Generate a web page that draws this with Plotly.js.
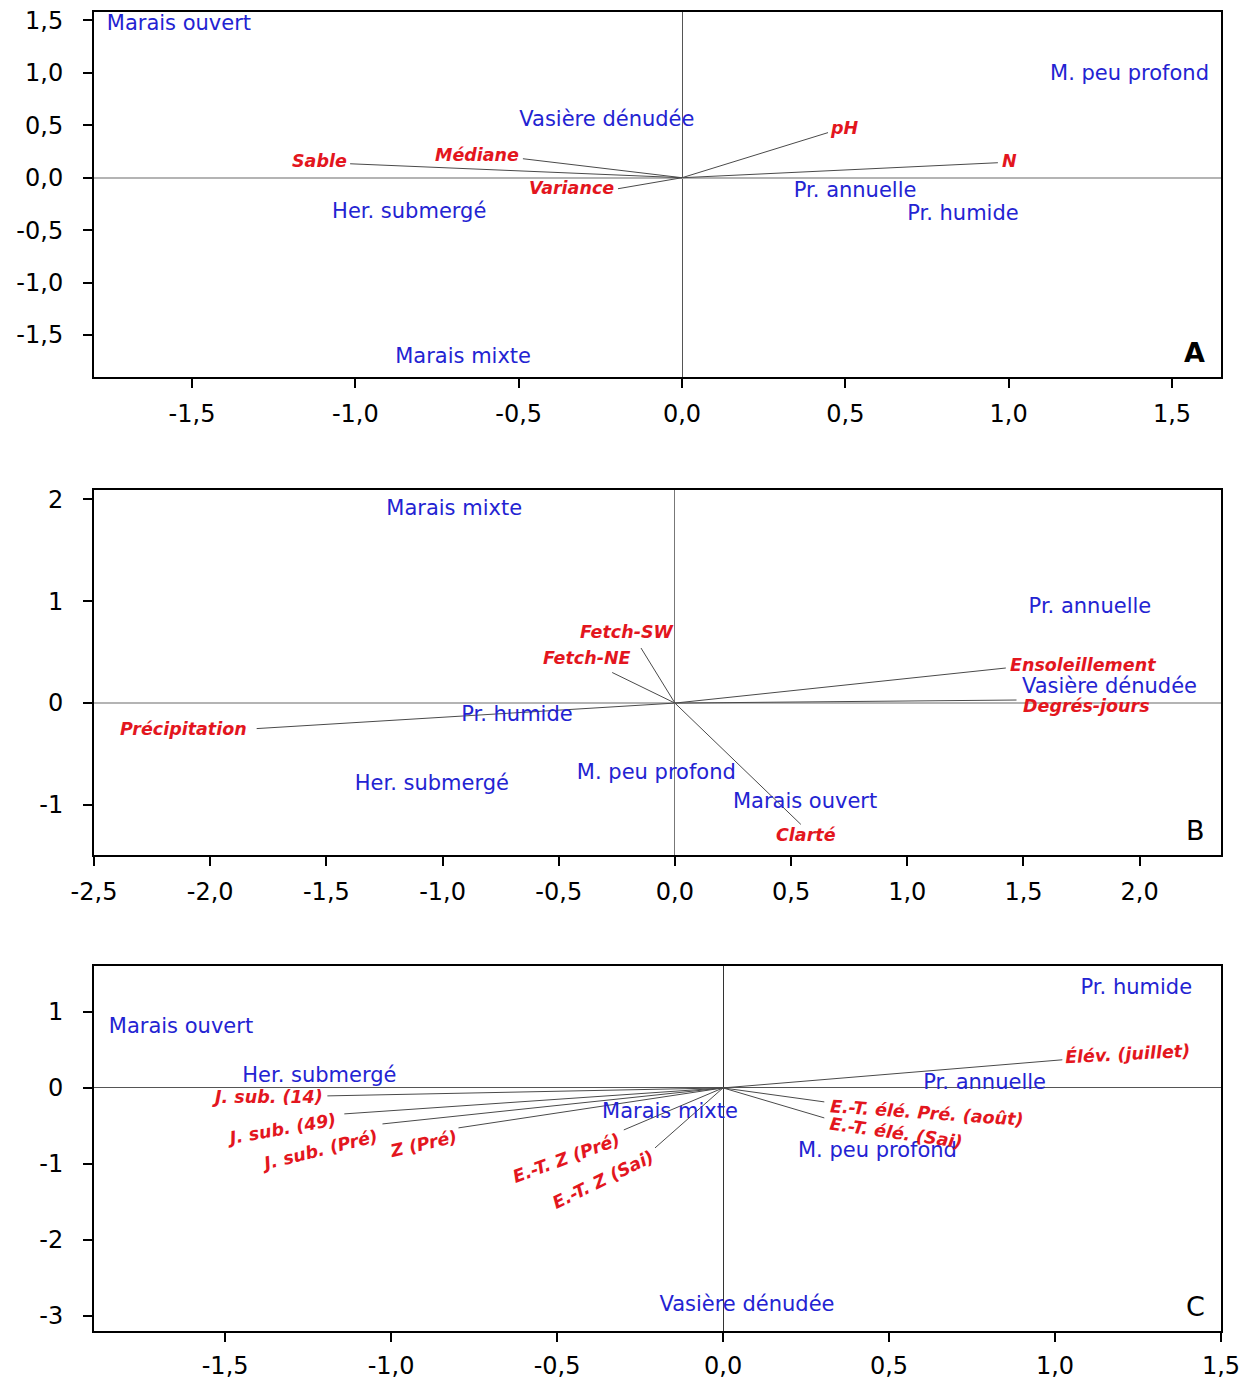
<!DOCTYPE html>
<html>
<head>
<meta charset="utf-8">
<script src="https://cdn.plot.ly/plotly-3.0.1.min.js"></script>
<style>
  html, body { margin: 0; padding: 0; background: #fff; }
  #chart { width: 1252px; height: 1384px; }
</style>
</head>
<body>
<div id="chart"></div>
<script>
// ---------------- Panel A ----------------
const aSites = ['Marais ouvert', 'M. peu profond', 'Vasière dénudée', 'Her. submergé', 'Pr. annuelle', 'Pr. humide', 'Marais mixte'];
const aSiteX = [-1.54, 1.37, -0.23, -0.835, 0.53, 0.86, -0.67];
const aSiteY = [1.46, 0.98, 0.54, -0.33, -0.13, -0.35, -1.72];
const aVars = ['pH', 'N', 'Sable', 'Médiane', 'Variance'];
const aVarX = [0.447, 0.967, -1.016, -0.487, -0.196];
const aVarY = [0.43, 0.143, 0.133, 0.181, -0.105];
const aTickVals = [-1.5, -1, -0.5, 0, 0.5, 1, 1.5];
const aTickText = ['-1,5', '-1,0', '-0,5', '0,0', '0,5', '1,0', '1,5'];

// ---------------- Panel B ----------------
const bSites = ['Marais mixte', 'Pr. annuelle', 'Vasière dénudée', 'Pr. humide', 'Her. submergé', 'M. peu profond', 'Marais ouvert'];
const bSiteX = [-0.95, 1.786, 1.87, -0.68, -1.046, -0.08, 0.56];
const bSiteY = [1.90, 0.94, 0.15, -0.12, -0.80, -0.69, -0.98];
const bVars = ['Fetch-SW', 'Fetch-NE', 'Ensoleillement', 'Degrés-jours', 'Précipitation', 'Clarté'];
const bVarX = [-0.146, -0.27, 1.424, 1.47, -1.80, 0.542];
const bVarY = [0.54, 0.30, 0.344, 0.03, -0.25, -1.19];
const bXTickVals = [-2.5, -2, -1.5, -1, -0.5, 0, 0.5, 1, 1.5, 2];
const bXTickText = ['-2,5', '-2,0', '-1,5', '-1,0', '-0,5', '0,0', '0,5', '1,0', '1,5', '2,0'];
const bYTickVals = [-1, 0, 1, 2];
const bYTickText = ['-1', '0', '1', '2'];

// ---------------- Panel C ----------------
const cSites = ['Pr. humide', 'Marais ouvert', 'Her. submergé', 'Pr. annuelle', 'Marais mixte', 'M. peu profond', 'Vasière dénudée'];
const cSiteX = [1.245, -1.633, -1.216, 0.788, -0.16, 0.465, 0.072];
const cSiteY = [1.30, 0.79, 0.145, 0.053, -0.33, -0.84, -2.87];
const cVars = ['Élév. (juillet)', 'E.-T. élé. Pré. (août)', 'E.-T. élé. (Sai)', 'J. sub. (14)', 'J. sub. (49)', 'J. sub. (Pré)', 'Z (Pré)', 'E.-T. Z (Pré)', 'E.-T. Z (Sai)'];
const cVarX = [1.022, 0.305, 0.305, -1.192, -1.141, -1.026, -0.797, -0.299, -0.205];
const cVarY = [0.37, -0.184, -0.395, -0.105, -0.342, -0.474, -0.526, -0.553, -0.79];
const cXTickVals = [-1.5, -1, -0.5, 0, 0.5, 1, 1.5];
const cXTickText = ['-1,5', '-1,0', '-0,5', '0,0', '0,5', '1,0', '1,5'];
const cYTickVals = [-3, -2, -1, 0, 1];
const cYTickText = ['-3', '-2', '-1', '0', '1'];

// ---------------- Styles ----------------
const FAMILY = 'DejaVu Sans, Verdana, sans-serif';
const BLUE = '#2323d2';
const RED = '#e3161e';
const siteFont = { family: FAMILY, size: 21, color: BLUE };
const varFont = { family: FAMILY, size: 17.5, color: RED, weight: 'bold', style: 'italic' };

// label placement [xanchor, yanchor, xshift, yshift, textangle]
const aVarStyle = [
  ['left', 'middle', 0, 5, 0],
  ['left', 'middle', 2, 2, 0],
  ['right', 'middle', -1, 3, 0],
  ['right', 'middle', -2, 4, 0],
  ['right', 'middle', -2, 1, 0]
];
const bVarStyle = [
  ['center', 'middle', -14, 16, 0],
  ['center', 'middle', -25, 15, 0],
  ['left', 'middle', 2, 3, 0],
  ['left', 'middle', 4, -6, 0],
  ['right', 'middle', -8, 0, 0],
  ['center', 'middle', 5, -11, 0]
];
const cVarStyle = [
  ['left', 'bottom', 0, -10, -3],
  ['left', 'top', 3, 8, 4],
  ['left', 'top', 2, 6, 8],
  ['right', 'middle', -2, -1, 0],
  ['right', 'top', -4, 7, -10],
  ['right', 'top', 0, 0, -14],
  ['right', 'top', 3, 4, -13],
  ['right', 'top', 2, 3, -20],
  ['right', 'top', 4, 4, -26]
];

function rays(xs, ys) {
  const x = [], y = [];
  xs.forEach((v, i) => { x.push(0, v, null); y.push(0, ys[i], null); });
  return { x, y };
}

function panelTraces(suffix, sites, sx, sy, vx, vy) {
  const r = rays(vx, vy);
  return [
    { type: 'scatter', mode: 'lines', x: r.x, y: r.y, xaxis: 'x' + suffix, yaxis: 'y' + suffix,
      line: { color: '#4a4a4a', width: 1 }, hoverinfo: 'skip' },
    { type: 'scatter', mode: 'text', x: sx, y: sy, text: sites, xaxis: 'x' + suffix, yaxis: 'y' + suffix,
      textposition: 'middle center', textfont: siteFont, cliponaxis: false, hoverinfo: 'skip' }
  ];
}

function varAnn(suffix, names, xs, ys, styles) {
  return names.map((n, i) => ({
    xref: 'x' + suffix, yref: 'y' + suffix, x: xs[i], y: ys[i], text: n, showarrow: false,
    xanchor: styles[i][0], yanchor: styles[i][1], xshift: styles[i][2], yshift: styles[i][3],
    textangle: styles[i][4], font: varFont
  }));
}

const H = 1384, W = 1252;
const xDom = [94 / W, 1221 / W];
function yDom(top, bottom) { return [1 - bottom / H, 1 - top / H]; }

const tickFont = { family: FAMILY, size: 24, color: '#000' };
function axis(extra) {
  return Object.assign({
    showline: true, mirror: true, linecolor: '#000', linewidth: 2,
    ticks: 'outside', ticklen: 9, tickwidth: 2, tickcolor: '#000',
    showgrid: false, tickmode: 'array', tickfont: tickFont, fixedrange: true
  }, extra);
}

const traces = [].concat(
  panelTraces('', aSites, aSiteX, aSiteY, aVarX, aVarY),
  panelTraces('2', bSites, bSiteX, bSiteY, bVarX, bVarY),
  panelTraces('3', cSites, cSiteX, cSiteY, cVarX, cVarY)
);

const panelLetter = (suffix, txt, bold) => ({
  xref: 'x' + suffix + ' domain', yref: 'y' + suffix + ' domain', x: 0.988, y: 0.02,
  xanchor: 'right', yanchor: 'bottom', showarrow: false, text: txt,
  font: { family: FAMILY, size: 27, color: '#000', weight: bold ? 'bold' : 'normal' }
});

const layout = {
  width: W, height: H,
  margin: { l: 0, r: 0, t: 0, b: 0 },
  paper_bgcolor: '#fff', plot_bgcolor: '#fff',
  showlegend: false,
  xaxis: axis({ domain: xDom, anchor: 'y', range: [-1.80, 1.65], tickvals: aTickVals, ticktext: aTickText,
    zeroline: true, zerolinecolor: '#555', zerolinewidth: 1, ticklabelstandoff: 5 }),
  yaxis: axis({ domain: yDom(12, 377), anchor: 'x', range: [-1.90, 1.58], tickvals: aTickVals, ticktext: aTickText,
    zeroline: true, zerolinecolor: '#b4b4b4', zerolinewidth: 2, ticklabelstandoff: 15 }),
  xaxis2: axis({ domain: xDom, anchor: 'y2', range: [-2.5, 2.35], tickvals: bXTickVals, ticktext: bXTickText,
    zeroline: true, zerolinecolor: '#777', zerolinewidth: 1, ticklabelstandoff: 5 }),
  yaxis2: axis({ domain: yDom(490, 855), anchor: 'x2', range: [-1.49, 2.09], tickvals: bYTickVals, ticktext: bYTickText,
    zeroline: true, zerolinecolor: '#b4b4b4', zerolinewidth: 2, ticklabelstandoff: 15 }),
  xaxis3: axis({ domain: xDom, anchor: 'y3', range: [-1.895, 1.5], tickvals: cXTickVals, ticktext: cXTickText,
    zeroline: true, zerolinecolor: '#333', zerolinewidth: 1, ticklabelstandoff: 3 }),
  yaxis3: axis({ domain: yDom(966, 1331), anchor: 'x3', range: [-3.2, 1.605], tickvals: cYTickVals, ticktext: cYTickText,
    zeroline: true, zerolinecolor: '#555', zerolinewidth: 1, ticklabelstandoff: 15 }),
  annotations: [].concat(
    varAnn('', aVars, aVarX, aVarY, aVarStyle),
    varAnn('2', bVars, bVarX, bVarY, bVarStyle),
    varAnn('3', cVars, cVarX, cVarY, cVarStyle),
    [panelLetter('', 'A', true), panelLetter('2', 'B', false), panelLetter('3', 'C', false)]
  )
};

Plotly.newPlot('chart', traces, layout, { staticPlot: true, displayModeBar: false });
</script>
</body>
</html>
